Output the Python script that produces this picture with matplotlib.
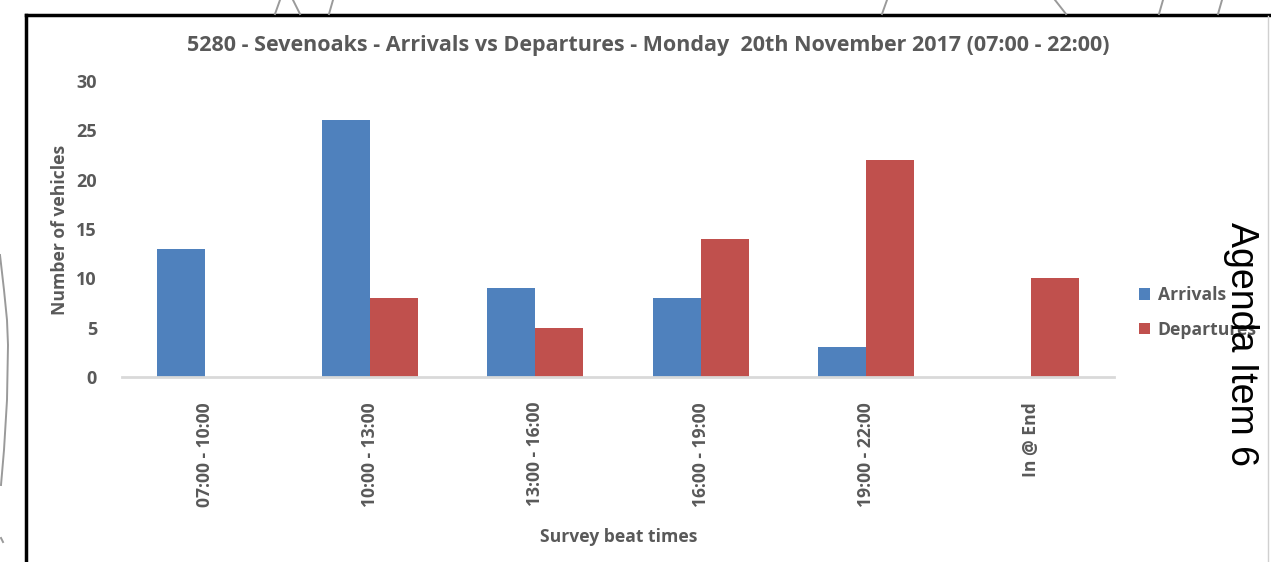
import matplotlib
matplotlib.use("Agg")
import matplotlib.pyplot as plt
from matplotlib.lines import Line2D
import numpy as np

categories = ["07:00 - 10:00", "10:00 - 13:00", "13:00 - 16:00",
              "16:00 - 19:00", "19:00 - 22:00", "In @ End"]
arrivals = [13, 26, 9, 8, 3, 0]
departures = [0, 8, 5, 14, 22, 10]
yticks = [0, 5, 10, 15, 20, 25, 30]

W, H = 1271, 562
fig = plt.figure(figsize=(W / 100, H / 100), dpi=100)
fig.patch.set_facecolor("white")

FONT = ["Open Sans", "DejaVu Sans"]
GRAY = "#595959"

def fx(x):
    return x / W

def fy(y):
    return 1 - y / H

ax = fig.add_axes([fx(122), fy(377), fx(1114) - fx(122), fy(81) - fy(377)])
x = np.arange(len(categories))
bw = 0.29
ax.bar(x - bw / 2, arrivals, bw, color="#4f81bd", label="Arrivals", zorder=2)
ax.bar(x + bw / 2, departures, bw, color="#c0504d", label="Departures", zorder=2)
ax.set_xlim(-0.5, len(categories) - 0.5)
ax.set_ylim(0, 30)
ax.set_yticks(yticks)
ax.set_xticks(x)
ax.set_xticklabels(categories, rotation=90, family=FONT, fontweight="bold",
                   color=GRAY, fontsize=12.6)
ax.set_yticklabels([str(t) for t in yticks], family=FONT, fontweight="bold",
                   color=GRAY, fontsize=13)
ax.tick_params(axis="both", length=0)
ax.tick_params(axis="x", pad=18)
ax.tick_params(axis="y", pad=18)
for s in ["top", "right", "left"]:
    ax.spines[s].set_visible(False)
ax.spines["bottom"].set_color("#d9d9d9")
ax.spines["bottom"].set_linewidth(2)
ax.set_facecolor("none")

fig.text(fx(648), fy(46), "5280 - Sevenoaks - Arrivals vs Departures - Monday  20th November 2017 (07:00 - 22:00)",
         ha="center", va="center", family=FONT, fontweight="bold", color=GRAY, fontsize=15.5)
fig.text(fx(60), fy(230), "Number of vehicles", rotation=90, ha="center", va="center",
         family=FONT, fontweight="bold", color=GRAY, fontsize=12.6)
fig.text(fx(619), fy(537), "Survey beat times", ha="center", va="center",
         family=FONT, fontweight="bold", color=GRAY, fontsize=12.6)

fig.text(fx(1241), fy(344), "Agenda Item 6", rotation=-90, ha="center", va="center",
         family=["Liberation Sans", "DejaVu Sans"], color="black", fontsize=27)

leg = ax.legend(loc="upper left", bbox_to_anchor=(fx(1139), fy(286)),
                bbox_transform=fig.transFigure, frameon=False,
                prop={"family": FONT, "weight": "bold", "size": 12.6},
                handlelength=0.62, handleheight=0.62, handletextpad=0.45,
                labelspacing=0.95, borderaxespad=0, borderpad=0)
leg.set_zorder(10)
for t in leg.get_texts():
    t.set_color(GRAY)

# page frame
fig.add_artist(Line2D([fx(26), fx(26)], [fy(15), 0], color="black", lw=2.5))
fig.add_artist(Line2D([fx(26), 1], [fy(15), fy(15)], color="black", lw=2.5))
fig.add_artist(Line2D([fx(1268), fx(1268)], [fy(16), 0], color="#d0d0d0", lw=1))

# background sketch strokes
sk = dict(color="#9a9a9a", lw=1.4)
fig.add_artist(Line2D([fx(280), fx(275)], [fy(0), fy(14)], **sk))
fig.add_artist(Line2D([fx(293), fx(300)], [fy(0), fy(14)], **sk))
fig.add_artist(Line2D([fx(333), fx(329)], [fy(0), fy(14)], **sk))
fig.add_artist(Line2D([fx(887), fx(882)], [fy(0), fy(14)], **sk))
fig.add_artist(Line2D([fx(1055), fx(1066)], [fy(0), fy(14)], **sk))
fig.add_artist(Line2D([fx(1163), fx(1159)], [fy(0), fy(14)], **sk))
fig.add_artist(Line2D([fx(1222), fx(1218)], [fy(0), fy(14)], **sk))
fig.add_artist(Line2D([fx(0), fx(4), fx(7), fx(8), fx(7), fx(4), fx(1)],
                      [fy(255), fy(290), fy(320), fy(345), fy(400), fy(450), fy(485)], **sk))
fig.add_artist(Line2D([fx(1), fx(3)], [fy(538), fy(542)], **sk))

fig.savefig("out.png", dpi=100)
